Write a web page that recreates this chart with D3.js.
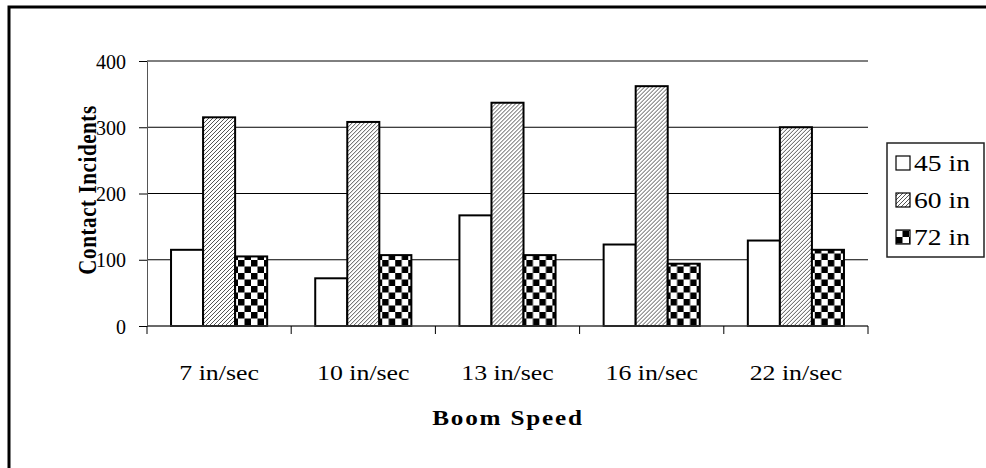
<!DOCTYPE html>
<html><head><meta charset="utf-8">
<script src="https://cdn.jsdelivr.net/npm/d3@7"></script>
<style>
body{margin:0;background:#fff;overflow:hidden}
svg{display:block}
text{font-family:"Liberation Serif","Times New Roman",serif;fill:#000}
</style>
</head><body>
<svg id="chart" width="986" height="468"></svg>
<script>
const categories = ["7 in/sec","10 in/sec","13 in/sec","16 in/sec","22 in/sec"];
const seriesNames = ["45 in","60 in","72 in"];
const values45 = [115,72,167,123,129];
const values60 = [315,308,337,362,300];
const values72 = [105,107,107,94,115];
const yTicks = [0,100,200,300,400];
const xTitle = "Boom Speed";
const yTitle = "Contact Incidents";

(function(){
const seriesValues = [values45, values60, values72];
const svg = d3.select("#chart");
const SX = 1.2; // horizontal stretch of the original rendering

// outer frame
svg.append("path").attr("d","M9,470 V7 H990").attr("fill","none").attr("stroke","#000").attr("stroke-width",3);

// patterns
const defs = svg.append("defs");
const hatch = defs.append("pattern").attr("id","p60").attr("patternUnits","userSpaceOnUse").attr("width",4).attr("height",4);
hatch.append("rect").attr("width",4).attr("height",4).attr("fill","#fff");
hatch.append("path").attr("d","M-1,1 L1,-1 M0,4 L4,0 M3,5 L5,3").attr("stroke","#555").attr("stroke-width",1);
const checker = defs.append("pattern").attr("id","p72").attr("patternUnits","userSpaceOnUse").attr("width",13).attr("height",13);
checker.append("rect").attr("width",13).attr("height",13).attr("fill","#fff");
checker.append("rect").attr("width",6.5).attr("height",6.5).attr("fill","#000");
checker.append("rect").attr("x",6.5).attr("y",6.5).attr("width",6.5).attr("height",6.5).attr("fill","#000");
const fills = ["#fff","url(#p60)","url(#p72)"];

const pL = 147, pR = 868, pT = 61, pB = 326;
const x = d3.scaleBand().domain(categories).range([pL,pR]).padding(0);
const xs = d3.scaleBand().domain(seriesNames).range([0,x.bandwidth()]).paddingInner(0).paddingOuter(0.75);
const y = d3.scaleLinear().domain([0,400]).range([pB,pT]);

// gridlines
svg.append("g").selectAll("line").data(yTicks).join("line")
  .attr("x1",pL).attr("x2",pR).attr("y1",d=>y(d)).attr("y2",d=>y(d))
  .attr("stroke","#000").attr("stroke-width",1);

// y axis
const yAxis = svg.append("g").attr("transform",`translate(${pL},0)`)
  .call(d3.axisLeft(y).tickValues(yTicks).tickSize(8).tickPadding(13).tickSizeOuter(0));
yAxis.select(".domain").attr("stroke","#555");
yAxis.selectAll(".tick line").attr("stroke","#000");
yAxis.selectAll("text").attr("font-size",20).attr("font-family","Liberation Serif").attr("dy","0.35em");

// bars
const groups = svg.append("g").selectAll("g").data(categories).join("g")
  .attr("transform",d=>`translate(${x(d)},0)`);
groups.selectAll("rect").data((c,i)=>seriesNames.map((s,j)=>({s,j,v:seriesValues[j][i]}))).join("rect")
  .attr("x",d=>xs(d.s)).attr("width",xs.bandwidth())
  .attr("y",d=>y(d.v)).attr("height",d=>y(0)-y(d.v))
  .attr("fill",d=>fills[d.j]).attr("stroke","#000").attr("stroke-width",2);

// x axis
const xAxisG = svg.append("g").attr("transform",`translate(0,${pB})`);
xAxisG.append("line").attr("x1",pL).attr("x2",pR).attr("stroke","#555");
const bounds = d3.range(categories.length+1).map(i=> i<categories.length ? x(categories[i]) : pR);
xAxisG.selectAll("line.tk").data(bounds).join("line").attr("class","tk")
  .attr("x1",d=>d).attr("x2",d=>d).attr("y1",0).attr("y2",8).attr("stroke","#000");
xAxisG.selectAll("text").data(categories).join("text")
  .attr("transform",d=>`translate(${x(d)+x.bandwidth()/2},54) scale(1.23,1)`)
  .attr("text-anchor","middle").attr("font-size",21).text(d=>d);

// titles
svg.append("text").attr("transform",`translate(508,425) scale(${SX},1)`).attr("text-anchor","middle")
  .attr("font-size",21).attr("font-weight","bold").attr("letter-spacing",1.5).text(xTitle);
svg.append("text").attr("transform",`translate(96,190) scale(${SX},1) rotate(-90)`).attr("text-anchor","middle")
  .attr("font-size",21).attr("font-weight","bold").attr("letter-spacing",0.6).text(yTitle);

// legend
const lg = svg.append("g").attr("transform","translate(887,143)");
lg.append("rect").attr("width",97).attr("height",114).attr("fill","#fff").attr("stroke","#222").attr("stroke-width",1.5);
const items = lg.selectAll("g").data(seriesNames).join("g").attr("transform",(d,i)=>`translate(9,${20+i*37})`);
items.append("rect").attr("x",0).attr("y",-7).attr("width",14).attr("height",14)
  .attr("fill",(d,i)=>fills[i]).attr("stroke","#000").attr("stroke-width",1.2);
items.append("text").attr("transform",`translate(18,0) scale(1.2,1)`).attr("dy","0.35em").attr("font-size",23).text(d=>d);
})();
</script>
</body></html>
